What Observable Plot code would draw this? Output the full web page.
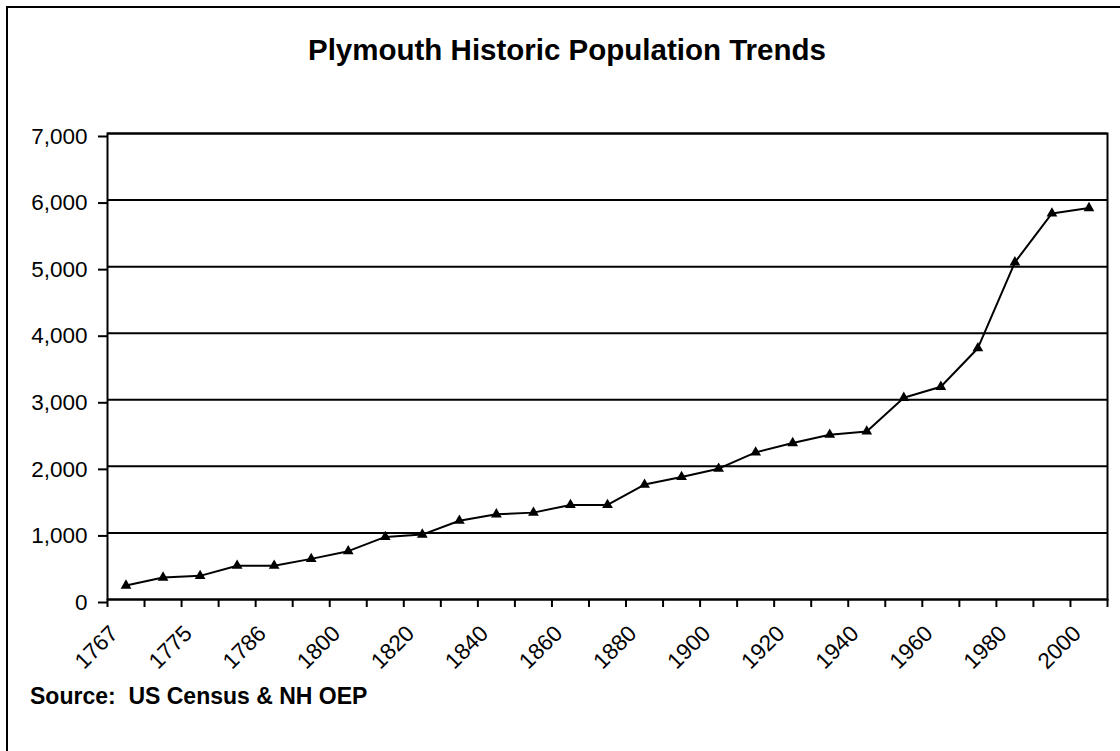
<!DOCTYPE html>
<html><head><meta charset="utf-8">
<script src="https://cdn.jsdelivr.net/npm/d3@7"></script>
<script src="https://cdn.jsdelivr.net/npm/@observablehq/plot@0.6"></script>
<style>
html,body{margin:0;padding:0;background:#fff;}
#wrap{position:relative;width:1120px;height:751px;overflow:hidden;font-family:Arial,"Liberation Sans",sans-serif;color:#000;}
#frame{position:absolute;left:6px;top:6px;width:1300px;height:900px;border-left:2px solid #000;border-top:2px solid #000;}
#title{position:absolute;left:308px;top:35px;font-size:29.5px;line-height:1;font-weight:bold;white-space:nowrap;}
#source{position:absolute;left:30px;top:684.5px;font-size:23px;line-height:1;font-weight:bold;white-space:pre;}
#chart{position:absolute;left:0;top:0;}
</style></head>
<body>
<div id="wrap">
  <div id="frame"></div>
  <div id="chart"></div>
  <div id="title">Plymouth Historic Population Trends</div>
  <div id="source">Source:  US Census &amp; NH OEP</div>
</div>
<script>
const years = [1767, 1773, 1775, 1783, 1786, 1790, 1800, 1810, 1820, 1830, 1840, 1850, 1860, 1870,
  1880, 1890, 1900, 1910, 1920, 1930, 1940, 1950, 1960, 1970, 1980, 1990, 2000];
const population = [210, 330, 355, 508, 508, 610, 726, 940, 975, 1183, 1280, 1305, 1421, 1421,
  1726, 1840, 1965, 2210, 2350, 2475, 2525, 3030, 3195, 3775, 5065, 5800, 5880];
const labelYears = [1767, 1775, 1786, 1800, 1820, 1840, 1860, 1880, 1900, 1920, 1940, 1960, 1980, 2000];
const yTicks = [0, 1000, 2000, 3000, 4000, 5000, 6000, 7000];

const data = years.map((year, i) => ({year, pos: i + 0.5, population: population[i]}));
const labelPositions = data.filter(d => labelYears.includes(d.year)).map(d => d.pos);
const boundaries = d3.range(years.length + 1);

const chart = Plot.plot({
  width: 1120,
  height: 751,
  marginLeft: 107,
  marginRight: 13,
  marginTop: 133,
  marginBottom: 152,
  style: {fontFamily: "Arial, 'Liberation Sans', sans-serif", fontSize: "22.5px", color: "#000", background: "transparent", overflow: "visible"},
  x: {domain: [0, years.length]},
  y: {domain: [0, 7000]},
  marks: [
    Plot.gridY(yTicks, {stroke: "#000", strokeOpacity: 1, strokeWidth: 2}),
    Plot.frame({stroke: "#000", strokeWidth: 2}),
    Plot.axisY(yTicks, {tickSize: 9, tickPadding: 11, tickFormat: d3.format(","), strokeWidth: 2, dy: 3, label: null}),
    Plot.axisX(boundaries, {tickSize: 8, tickFormat: () => "", strokeWidth: 2, label: null}),
    Plot.axisX(labelPositions, {tickSize: 0, tickPadding: 24, tickRotate: -45, textAnchor: "end", lineAnchor: "top", dx: -18,
      tickFormat: p => String(years[Math.floor(p)]), label: null}),
    Plot.line(data, {x: "pos", y: "population", stroke: "#000", strokeWidth: 2}),
    Plot.dot(data, {x: "pos", y: "population", symbol: "triangle", fill: "#000", stroke: "none", r: 4})
  ]
});
document.getElementById("chart").appendChild(chart);
</script>
</body></html>
